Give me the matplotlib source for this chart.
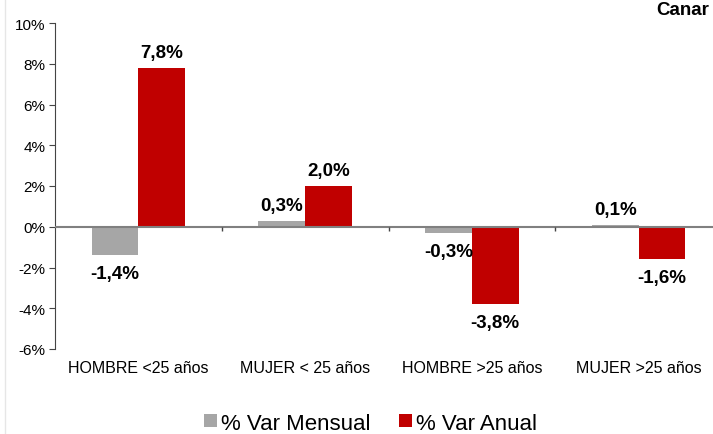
import matplotlib
matplotlib.use("Agg")
import matplotlib.pyplot as plt
import numpy as np

categories = ["HOMBRE <25 años", "MUJER < 25 años", "HOMBRE >25 años", "MUJER >25 años"]
var_mensual = [-1.4, 0.3, -0.3, 0.1]
var_anual = [7.8, 2.0, -3.8, -1.6]
series_names = ["% Var Mensual", "% Var Anual"]
yticks = [-6, -4, -2, 0, 2, 4, 6, 8, 10]

plt.rcParams['font.family'] = ['Liberation Sans', 'DejaVu Sans']

fig = plt.figure(figsize=(7.13, 4.35), dpi=100)
ax = fig.add_axes([55/713, 85/435, (722-55)/713, (350-24)/435])

x = np.arange(len(categories))
w = 0.28
gray = '#A6A6A6'
red = '#C00000'
b1 = ax.bar(x - w/2, var_mensual, w, color=gray, label=series_names[0])
b2 = ax.bar(x + w/2, var_anual, w, color=red, label=series_names[1])

def fmt(v):
    return f"{v:.1f}%".replace('.', ',')

for bars, vals in ((b1, var_mensual), (b2, var_anual)):
    for r, v in zip(bars, vals):
        cx = r.get_x() + r.get_width()/2
        if v >= 0:
            ax.annotate(fmt(v), (cx, v), xytext=(0, 5), textcoords='offset points',
                        ha='center', va='bottom', fontsize=13.5, fontweight='bold')
        else:
            ax.annotate(fmt(v), (cx, v), xytext=(0, -7), textcoords='offset points',
                        ha='center', va='top', fontsize=13.5, fontweight='bold')

ax.set_xlim(-0.5, len(categories) - 0.5)
ax.set_ylim(-6, 10)
ax.set_yticks(yticks)
ax.set_yticklabels([f"{t}%" for t in yticks], fontsize=11)
ax.set_xticks(x)
ax.set_xticklabels(categories, fontsize=11.5)
ax.tick_params(axis='x', length=0, pad=8)
ax.tick_params(axis='y', length=4, color='#444444', direction='out', pad=3)

for s in ('top', 'right', 'bottom'):
    ax.spines[s].set_visible(False)
ax.spines['left'].set_color('#444444')
ax.axhline(0, color='#808080', lw=1.5, zorder=3)
ax.vlines(x[:-1] + 0.5, -0.2, 0, color='#444444', lw=1, zorder=3)

fig.text(0.995, 0.995, "Canar", fontsize=13.5, fontweight='bold', ha='right', va='top')
fig.add_artist(plt.Line2D([5/713, 5/713], [0, 1], color='#E6E6E6', lw=1))

fig.legend(handles=[b1, b2], labels=series_names, loc='lower center',
           bbox_to_anchor=(0.52, -0.045), ncol=2, frameon=False, fontsize=16,
           handlelength=0.55, handleheight=0.55, handletextpad=0.2, columnspacing=1.3)

fig.savefig("out.png", dpi=100)
